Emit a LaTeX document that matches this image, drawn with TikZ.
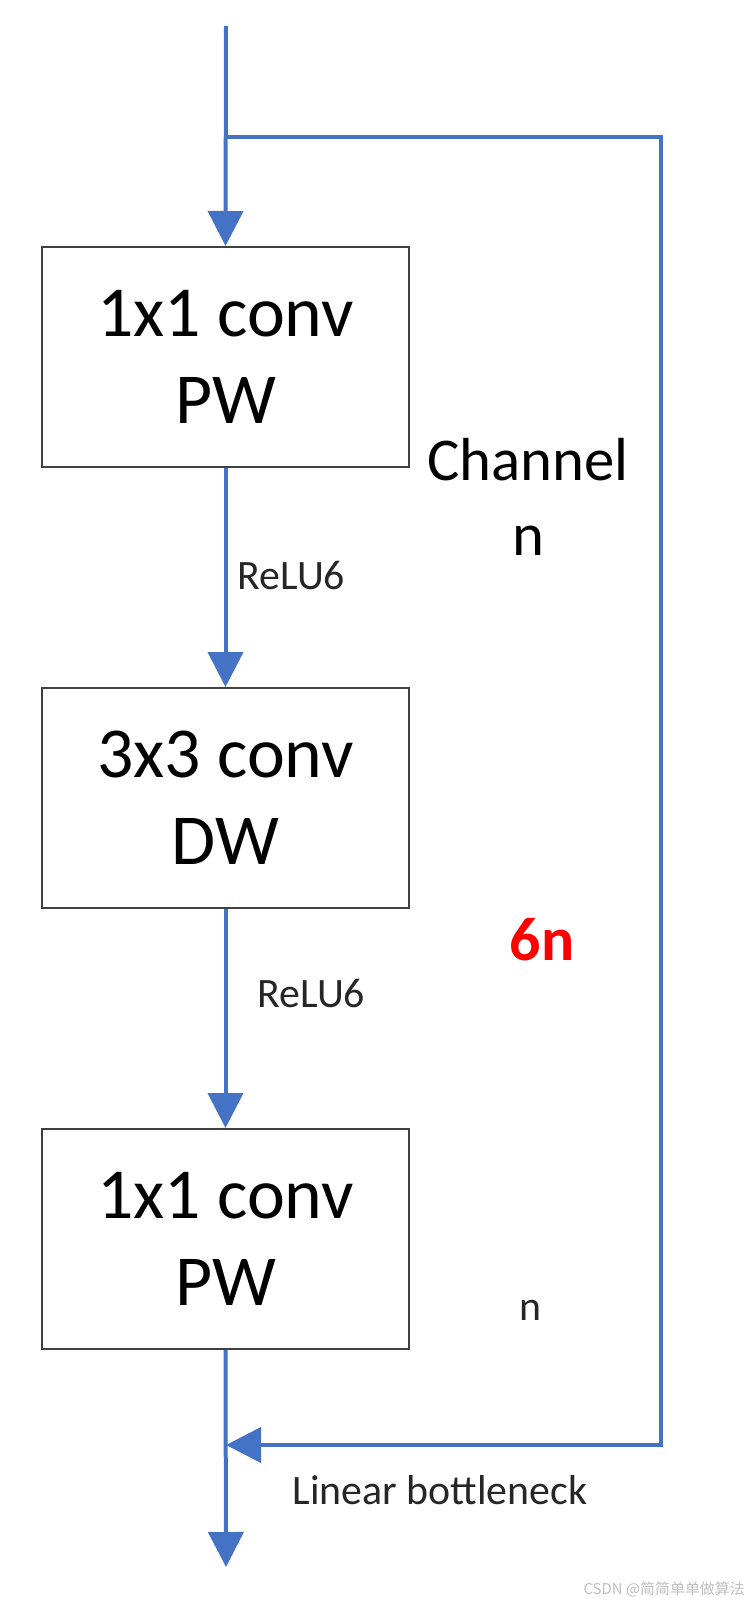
\documentclass[tikz,border=0pt]{standalone}
\usepackage{fontspec}
\setmainfont{Carlito}
\newfontfamily\cjkfont{Noto Sans CJK SC}
\usetikzlibrary{arrows.meta}

\definecolor{flowblue}{HTML}{4472C4}
\definecolor{boxgray}{HTML}{404040}
\definecolor{markred}{HTML}{FF0000}

\tikzset{
  convbox/.style={draw=boxgray, line width=2bp, fill=white, minimum width=367bp,
    minimum height=220bp, align=center, inner sep=0pt,
    font=\fontsize{72}{87}\selectfont},
  flow/.style={draw=flowblue, line width=4bp, -{Triangle[width=35bp,length=35bp]}},
  skipline/.style={draw=flowblue, line width=4bp},
  small/.style={font=\fontsize{42}{50}\selectfont, text=black!85},
}

\begin{document}
\begin{tikzpicture}[x=1bp, y=-1bp]
  \useasboundingbox (0,0) rectangle (748,1600);

  % Define the points of the main path
  \coordinate (in) at (226, 26);
  \coordinate (split) at (226, 137);
  \coordinate (merge) at (226, 1445);
  \coordinate (out) at (226, 1567);
  \coordinate (skipx) at (661, 0);

  % Draw the three conv blocks
  \node[convbox] (pw1) at (225.5, 357) {1x1 conv\\PW};
  \node[convbox] (dw)  at (225.5, 798) {3x3 conv\\DW};
  \node[convbox] (pw2) at (225.5, 1239) {1x1 conv\\PW};

  % Draw the main path
  \draw[flow] (in) -- (pw1.north);
  \draw[flow] (pw1.south) -- (dw.north);
  \draw[flow] (dw.south) -- (pw2.north);
  \draw[flow] (pw2.south) -- (out);

  % Shortcut from input to output
  \draw[skipline, line join=miter] (split) -- (split -| skipx) -- (merge -| skipx)
    -- ++(-10,0);
  \draw[flow] (merge -| skipx) -- (merge);

  % Labels on the arrows
  \node[small, anchor=base west] (act1) at (234, 589) {ReLU6};
  \node[small, anchor=base west] (act2) at (254, 1007) {ReLU6};
  \node[small, anchor=base west] (linear) at (289, 1504) {Linear bottleneck};

  % Channel counts
  \node[font=\fontsize{61}{75}\selectfont, anchor=base] (chan) at (528, 480) {Channel};
  \node[font=\fontsize{61}{75}\selectfont, anchor=base] (chanin) at (528, 555) {n};
  \node[font=\bfseries\fontsize{62}{75}\selectfont, text=markred, anchor=base] (chanmid) at (542, 960) {6n};
  \node[small, anchor=base] (chanout) at (530, 1320) {n};

  % Watermark
  \node[font=\cjkfont\fontsize{15}{18}\selectfont, text=black!25, anchor=south east,
    inner sep=0pt] (mark) at (745, 1597) {CSDN @简简单单做算法};
\end{tikzpicture}
\end{document}
